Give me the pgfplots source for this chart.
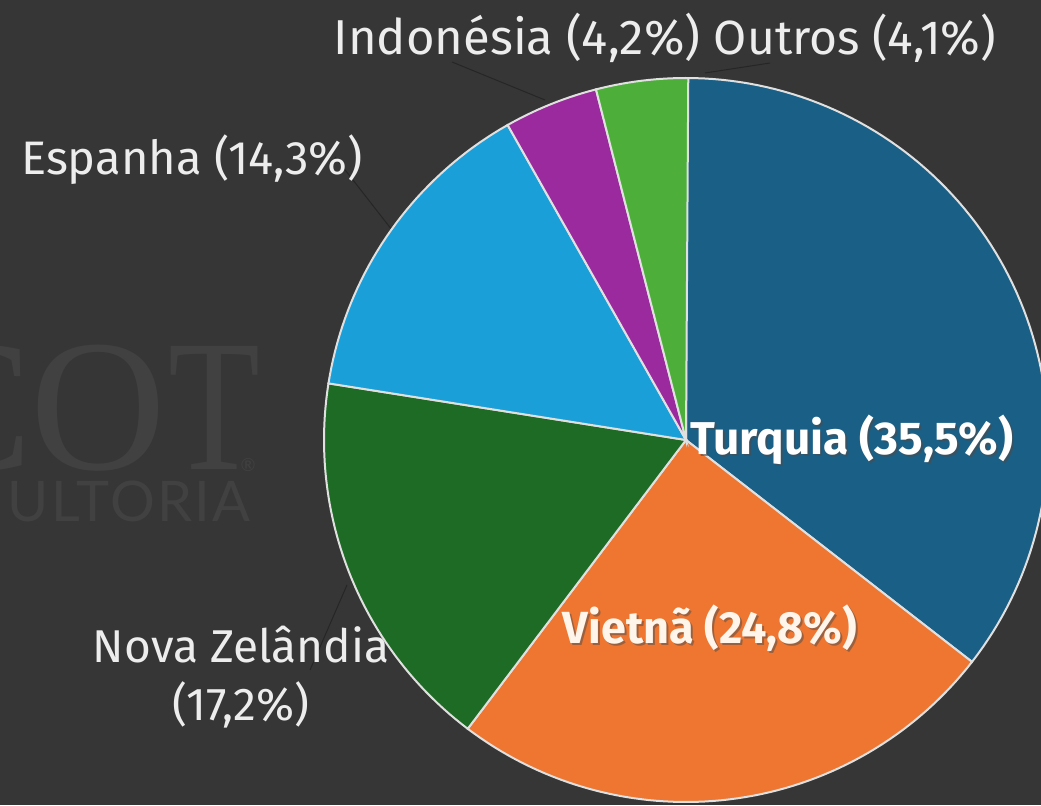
\documentclass[border=0pt]{standalone}
\usepackage{pgfplots}
\pgfplotsset{compat=1.18}
\usepackage{fontspec}
\setmainfont{Fira Sans}
\newfontfamily\wmserif{Liberation Serif}
\newfontfamily\wmsans[LetterSpace=4]{Lato}
\definecolor{bg}{HTML}{363636}
\definecolor{wm}{HTML}{414141}
\definecolor{turq}{HTML}{195F86}
\definecolor{viet}{HTML}{EE7630}
\definecolor{nz}{HTML}{1D6B24}
\definecolor{esp}{HTML}{1A9FD9}
\definecolor{indo}{HTML}{9A2A9E}
\definecolor{outr}{HTML}{4DAF3A}
\definecolor{lbl}{HTML}{EDEDED}
\definecolor{lead}{HTML}{262626}
\begin{document}
\begin{tikzpicture}
% shares (%), clockwise from the top
\def\vA{35.5}\def\vB{24.8}\def\vC{17.2}\def\vD{14.3}\def\vE{4.2}\def\vF{4.1}
\pgfmathsetmacro\aA{90}
\pgfmathsetmacro\aB{\aA-3.6*\vA}
\pgfmathsetmacro\aC{\aB-3.6*\vB}
\pgfmathsetmacro\aD{\aC-3.6*\vC}
\pgfmathsetmacro\aE{\aD-3.6*\vD}
\pgfmathsetmacro\aF{\aE-3.6*\vE}
\pgfmathsetmacro\aG{\aF-3.6*\vF}
\def\cx{686}\def\cy{365}\def\R{362}
\begin{axis}[
  scale only axis, width=520.5pt, height=402.5pt,
  xmin=0, xmax=1041, ymin=0, ymax=805,
  axis lines=none, ticks=none,
  axis background/.style={fill=bg},
  clip=true,
]
% watermark
\node[anchor=base east, text=wm, font=\wmserif\fontsize{94}{94}\selectfont, inner sep=0pt] at (axis cs:33,335) {C};
\node[anchor=base west, text=wm, font=\wmserif\fontsize{94}{94}\selectfont, inner sep=0pt] at (axis cs:30,335) {O};
\node[anchor=base east, text=wm, font=\wmserif\fontsize{94}{94}\selectfont, inner sep=0pt, xscale=0.8, transform shape] at (axis cs:261,335) {T};
\node[anchor=center, text=wm, font=\wmsans\fontsize{9}{9}\selectfont, inner sep=0pt] at (axis cs:248,340) {®};
\node[anchor=base east, text=wm, font=\wmsans\fontsize{28}{28}\selectfont, inner sep=0pt] at (axis cs:251,283) {ULTORIA};
% leader lines
\addplot[draw=lead, line width=0.5pt] coordinates {(452,743) (545,705)};
\addplot[draw=lead, line width=0.5pt] coordinates {(705,732) (770,742)};
\addplot[draw=lead, line width=0.5pt] coordinates {(335,648) (392,575)};
\addplot[draw=lead, line width=0.5pt] coordinates {(347,220) (310,135)};
% slices
\addplot[fill=turq, draw=white!88!black, line width=1pt, domain=\aB:\aA, samples=90, variable=\t] ({\cx+\R*cos(\t)},{\cy+\R*sin(\t)}) -- (axis cs:\cx,\cy) -- cycle;
\addplot[fill=viet, draw=white!88!black, line width=1pt, domain=\aC:\aB, samples=70, variable=\t] ({\cx+\R*cos(\t)},{\cy+\R*sin(\t)}) -- (axis cs:\cx,\cy) -- cycle;
\addplot[fill=nz, draw=white!88!black, line width=1pt, domain=\aD:\aC, samples=50, variable=\t] ({\cx+\R*cos(\t)},{\cy+\R*sin(\t)}) -- (axis cs:\cx,\cy) -- cycle;
\addplot[fill=esp, draw=white!88!black, line width=1pt, domain=\aE:\aD, samples=40, variable=\t] ({\cx+\R*cos(\t)},{\cy+\R*sin(\t)}) -- (axis cs:\cx,\cy) -- cycle;
\addplot[fill=indo, draw=white!88!black, line width=1pt, domain=\aF:\aE, samples=15, variable=\t] ({\cx+\R*cos(\t)},{\cy+\R*sin(\t)}) -- (axis cs:\cx,\cy) -- cycle;
\addplot[fill=outr, draw=white!88!black, line width=1pt, domain=\aG:\aF, samples=15, variable=\t] ({\cx+\R*cos(\t)},{\cy+\R*sin(\t)}) -- (axis cs:\cx,\cy) -- cycle;
% outside labels
\node[text=lbl, font=\fontsize{24.5}{27}\selectfont, inner sep=0pt] at (axis cs:517,767) {Indonésia (4,2\%)};
\node[text=lbl, font=\fontsize{24}{27}\selectfont, inner sep=0pt] at (axis cs:855,767) {Outros (4,1\%)};
\node[text=lbl, font=\fontsize{23.5}{27}\selectfont, inner sep=0pt] at (axis cs:192,645) {Espanha (14,3\%)};
\node[text=lbl, font=\fontsize{23}{27}\selectfont, inner sep=0pt, align=center] at (axis cs:241,128) {Nova Zelândia\\[2pt](17,2\%)};
% inside labels
\node[text=black!70, font=\bfseries\fontsize{23}{27}\selectfont, inner sep=0pt, anchor=west, opacity=0.6] at (axis cs:692,363) {Turquia (35,5\%)};
\node[text=white, font=\bfseries\fontsize{23}{27}\selectfont, inner sep=0pt, anchor=west] at (axis cs:690,365) {Turquia (35,5\%)};
\node[text=black!70, font=\bfseries\fontsize{22.5}{27}\selectfont, inner sep=0pt, opacity=0.5] at (axis cs:712,175) {Vietnã (24,8\%)};
\node[text=white!92!orange, font=\bfseries\fontsize{22.5}{27}\selectfont, inner sep=0pt] at (axis cs:710,177) {Vietnã (24,8\%)};
\end{axis}
\pgfresetboundingbox
\useasboundingbox (current axis.south west) rectangle (current axis.north east);
\end{tikzpicture}
\end{document}
